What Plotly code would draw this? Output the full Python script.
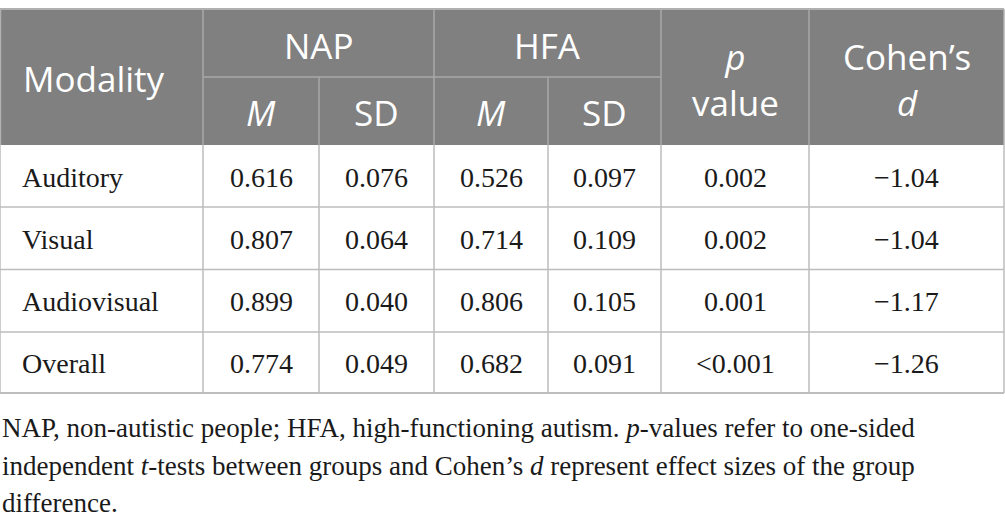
import plotly.graph_objects as go

# Table values
modalities = ["Auditory", "Visual", "Audiovisual", "Overall"]
nap_m = ["0.616", "0.807", "0.899", "0.774"]
nap_sd = ["0.076", "0.064", "0.040", "0.049"]
hfa_m = ["0.526", "0.714", "0.806", "0.682"]
hfa_sd = ["0.097", "0.109", "0.105", "0.091"]
p_values = ["0.002", "0.002", "0.001", "<0.001"]
cohens_d = ["\u22121.04", "\u22121.04", "\u22121.17", "\u22121.26"]

footnote = [
    "NAP, non-autistic people; HFA, high-functioning autism. <i>p</i>-values refer to one-sided",
    "independent <i>t</i>-tests between groups and Cohen\u2019s <i>d</i> represent effect sizes of the group",
    "difference.",
]

# layout in pixels
W, H = 1005, 525
col_x = [0, 203, 319, 434, 548, 661, 809, 1004]
top = 9
head_mid = 77
head_bot = 145
row_y = [145, 207, 269.5, 332, 393]

HEAD_BG = "#808080"
HEAD_LINE = "#a8a8a8"
GRID = "#bdbdbd"
SANS = "Open Sans"
SERIF = "Liberation Serif"

fig = go.Figure()
shapes = []
annotations = []

# header background
shapes.append(dict(type="rect", x0=col_x[0], x1=col_x[-1], y0=top, y1=head_bot,
                   fillcolor=HEAD_BG, line=dict(width=0), layer="below"))

def hline(x0, x1, y, color=GRID, w=1.5):
    shapes.append(dict(type="line", x0=x0, x1=x1, y0=y, y1=y,
                       line=dict(color=color, width=w)))

def vline(x, y0, y1, color=GRID, w=1.5):
    shapes.append(dict(type="line", x0=x, x1=x, y0=y0, y1=y1,
                       line=dict(color=color, width=w)))

# header lines
hline(col_x[1], col_x[5], head_mid, HEAD_LINE)
for i in range(1, 7):
    if i in (2, 4):
        vline(col_x[i], head_mid, head_bot, HEAD_LINE)
    else:
        vline(col_x[i], top, head_bot, HEAD_LINE)

# body lines
for y in row_y[1:]:
    hline(col_x[0], col_x[-1], y, GRID, 2 if y == row_y[-1] else 1.5)
for x in col_x:
    vline(x, head_bot, row_y[-1])
hline(col_x[0], col_x[-1], top, "#b0b0b0", 2)
vline(col_x[0] + 0.5, top, head_bot, "#b0b0b0")
vline(col_x[-1], top, head_bot, "#b0b0b0")


def txt(x, y, s, font, size, color, xanchor="center"):
    annotations.append(dict(x=x, y=y, text=s, showarrow=False, xanchor=xanchor,
                            yanchor="middle", align=xanchor if xanchor != "center" else "center",
                            font=dict(family=font, size=size, color=color)))

# header text
hs = 35
txt(21, head_mid + 1, "Modality", SANS, hs, "white", "left")
txt((col_x[1] + col_x[3]) / 2, 45, "NAP", SANS, hs, "white")
txt((col_x[3] + col_x[5]) / 2, 45, "HFA", SANS, hs, "white")
for i in range(1, 5):
    label = "<i>M</i>" if i % 2 == 1 else "SD"
    txt((col_x[i] + col_x[i + 1]) / 2, 112, label, SANS, hs, "white")
txt((col_x[5] + col_x[6]) / 2, 79, "<i>p</i><br>value", SANS, hs, "white")
txt((col_x[6] + col_x[7]) / 2, 79, "Cohen\u2019s<br><i>d</i>", SANS, hs, "white")

# body text
bs = 28
columns = [nap_m, nap_sd, hfa_m, hfa_sd, p_values, cohens_d]
for r, name in enumerate(modalities):
    yc = (row_y[r] + row_y[r + 1]) / 2 + 1
    txt(20, yc, name, SERIF, bs, "#1a1a1a", "left")
    for c, vals in enumerate(columns):
        txt((col_x[c + 1] + col_x[c + 2]) / 2, yc, vals[r], SERIF, bs, "#1a1a1a")

# footnote
for k, line in enumerate(footnote):
    txt(0, 428 + k * 37.5, line, SERIF, 27, "#1a1a1a", "left")

fig.update_layout(
    width=W, height=H,
    margin=dict(l=0, r=0, t=0, b=0),
    paper_bgcolor="white", plot_bgcolor="white",
    shapes=shapes, annotations=annotations,
    xaxis=dict(range=[0, W], visible=False, fixedrange=True),
    yaxis=dict(range=[H, 0], visible=False, fixedrange=True),
    showlegend=False,
)

fig.write_html("out.html", config={"displayModeBar": False},
               post_script="document.body.style.margin='0';document.body.style.overflow='hidden';")
